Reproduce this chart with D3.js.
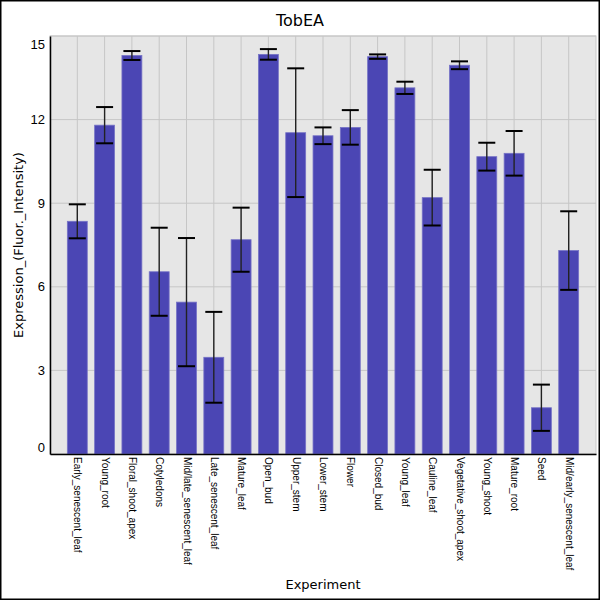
<!DOCTYPE html>
<html lang="en">
<head>
  <meta charset="UTF-8">
  <title>TobEA</title>
  <script src="https://d3js.org/d3.v7.min.js"></script>
  <style>
    body { margin: 0; background: #fff; }
    svg { display: block; font-family: "DejaVu Sans", sans-serif; }
  </style>
</head>
<body>
  <svg id="chart"></svg>
  <script>
    // data
    const experiments = [
      "Early_senescent_leaf", "Young_root", "Floral_shoot_apex", "Cotyledons",
      "Mid/late_senescent_leaf", "Late_senescent_leaf", "Mature_leaf", "Open_bud",
      "Upper_stem", "Lower_stem", "Flower", "Closed_bud", "Young_leaf",
      "Cauline_leaf", "Vegetative_shoot_apex", "Young_shoot", "Mature_root",
      "Seed", "Mid/early_senescent_leaf"
    ];
    const expression = [8.35, 11.8, 14.3, 6.54, 5.45, 3.47, 7.69, 14.34, 11.53, 11.42,
                        11.72, 14.26, 13.14, 9.2, 13.95, 10.67, 10.79, 1.66, 7.3];
    const stdev = [0.61, 0.65, 0.16, 1.58, 2.3, 1.63, 1.15, 0.19, 2.31, 0.3,
                   0.62, 0.08, 0.22, 1.0, 0.14, 0.5, 0.8, 0.83, 1.41];
    const yTicks = [0, 3, 6, 9, 12, 15];

    const W = 600, H = 600;
    const margin = { top: 36, right: 4, bottom: 146, left: 50 };
    const svg = d3.select("#chart").attr("width", W).attr("height", H);

    const x = d3.scalePoint()
      .domain(experiments)
      .range([margin.left, W - margin.right])
      .padding(1);
    const y = d3.scaleLinear()
      .domain([0, 15])
      .range([H - margin.bottom, margin.top]);
    const barW = x.step() * 0.73;

    // plot background
    svg.append("rect")
      .attr("x", margin.left).attr("y", margin.top)
      .attr("width", W - margin.left - margin.right)
      .attr("height", H - margin.top - margin.bottom)
      .attr("fill", "#e6e6e6").attr("stroke", "#c8c8c8");

    // grid
    const grid = svg.append("g").attr("stroke", "#c6c6c6").attr("stroke-width", 1);
    grid.selectAll(".gy").data(yTicks).join("line")
      .attr("x1", margin.left).attr("x2", W - margin.right)
      .attr("y1", d => y(d)).attr("y2", d => y(d));
    grid.selectAll(".gx").data(experiments).join("line")
      .attr("x1", d => x(d)).attr("x2", d => x(d))
      .attr("y1", margin.top).attr("y2", H - margin.bottom);

    // bars
    svg.append("g").selectAll("rect")
      .data(experiments).join("rect")
        .attr("x", d => x(d) - barW / 2)
        .attr("y", (d, i) => y(expression[i]))
        .attr("width", barW)
        .attr("height", (d, i) => y(0) - y(expression[i]))
        .attr("fill", "#4b46b4")
        .attr("stroke", "#7673c6").attr("stroke-width", 0.8);

    // error bars
    const err = svg.append("g");
    experiments.forEach((d, i) => {
      const lo = y(expression[i] - stdev[i]), hi = y(expression[i] + stdev[i]);
      err.append("line")
        .attr("x1", x(d)).attr("x2", x(d)).attr("y1", lo).attr("y2", hi)
        .attr("stroke", "#222").attr("stroke-width", 1.4);
      [lo, hi].forEach(v => err.append("line")
        .attr("x1", x(d) - 8.5).attr("x2", x(d) + 8.5)
        .attr("y1", v).attr("y2", v)
        .attr("stroke", "#000").attr("stroke-width", 2));
    });

    // axes
    const yAxis = svg.append("g")
      .attr("transform", `translate(${margin.left},0)`)
      .call(d3.axisLeft(y).tickValues(yTicks).tickSize(0).tickPadding(5));
    yAxis.select(".domain").attr("stroke", "#000").attr("stroke-width", 1.5);
    yAxis.selectAll("text")
      .style("font-size", "13px").attr("fill", "#000")
      .attr("dy", d => d === 0 ? "-0.18em" : d === 15 ? "0.95em" : "0.32em");

    const xAxis = svg.append("g")
      .attr("transform", `translate(0,${H - margin.bottom})`)
      .call(d3.axisBottom(x).tickSize(0).tickPadding(0));
    xAxis.select(".domain").attr("stroke", "#000").attr("stroke-width", 1.5);
    xAxis.selectAll("text")
      .style("font-size", "10px").attr("fill", "#000")
      .attr("text-anchor", "start")
      .attr("transform", "rotate(90)")
      .attr("x", 3).attr("y", 0).attr("dy", "0.35em");

    // titles
    svg.append("text")
      .attr("x", W / 2).attr("y", 26)
      .attr("text-anchor", "middle")
      .style("font-size", "16px")
      .text("TobEA");

    svg.append("text")
      .attr("x", (margin.left + W - margin.right) / 2).attr("y", 589)
      .attr("text-anchor", "middle")
      .style("font-size", "13px")
      .text("Experiment");

    svg.append("text")
      .attr("transform", `translate(23,${(margin.top + H - margin.bottom) / 2}) rotate(-90)`)
      .attr("text-anchor", "middle")
      .style("font-size", "13px")
      .text("Expression_(Fluor._Intensity)");

    // outer frame
    svg.append("rect")
      .attr("x", 0.5).attr("y", 0.5).attr("width", W - 1).attr("height", H - 1)
      .attr("fill", "none").attr("stroke", "#000").attr("stroke-width", 2);
  </script>
</body>
</html>
